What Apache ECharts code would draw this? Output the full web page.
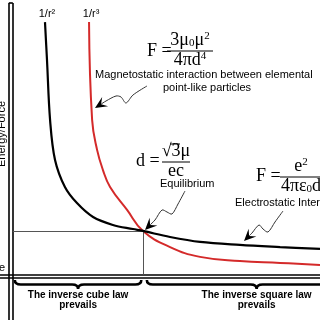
<!DOCTYPE html>
<html><head><meta charset="utf-8">
<script src="https://cdn.jsdelivr.net/npm/echarts@6/dist/echarts.min.js"></script>
<style>html,body{margin:0;padding:0;background:#fff}#c{width:320px;height:320px}</style>
</head><body><div id="c"></div>
<script>
// ---- data (distance, energy/force) ----
const inverseSquareX = [1.105, 1.17, 1.27, 1.43, 1.75, 2.14, 2.66, 3.30, 3.95, 4.275, 5.15, 6.12, 7.41, 8.71, 10.0];
const inverseSquareY = [9.30, 7.91, 5.71, 4.25, 3.26, 2.67, 2.16, 1.87, 1.72, 1.65, 1.43, 1.25, 1.14, 1.06, 0.99];
const inverseCubeX = [2.53, 2.63, 2.79, 2.98, 3.21, 3.76, 4.275, 5.15, 6.12, 7.41, 8.71, 10.0];
const inverseCubeY = [9.30, 5.71, 4.62, 3.88, 3.26, 2.42, 1.65, 1.06, 0.70, 0.55, 0.48, 0.40];
const equilibrium = [4.275, 1.65];
const curveLabels = ['1/r\u00b2', '1/r\u00b3'];
const lawRanges = [[0.13, 4.22], [4.40, 11.5]];
const lawLabels = ['The inverse cube law\nprevails', 'The inverse square law\nprevails'];
const axisName = 'Energy/Force';
const xName = 'Distance';

const SERIF = '"Liberation Serif","Times New Roman",serif';
const SANS = '"Liberation Sans",Arial,sans-serif';
const chart = echarts.init(document.getElementById('c'));

const zip = (xs, ys) => xs.map((x, i) => [x, ys[i]]);
const R = {
  n: {fontFamily: SERIF, fontSize: 18, lineHeight: 18, fill: '#000'},
  sub: {fontFamily: SERIF, fontSize: 11, lineHeight: 10, verticalAlign: 'bottom', fill: '#000'},
  sup: {fontFamily: SERIF, fontSize: 11, lineHeight: 10, verticalAlign: 'top', fill: '#000'}
};
function txt(x, y, text, extra) {
  return {type: 'text', x: x, y: y, z: 10, style: Object.assign({text: text, fill: '#000', font: '11px ' + SANS, align: 'left', verticalAlign: 'middle'}, extra || {})};
}
function fraction(cx, cy, num, den, x1, x2) {
  return [
    {type: 'text', x: cx, y: cy - 2, z: 10, style: {text: num, rich: R, align: 'center', verticalAlign: 'bottom'}},
    {type: 'line', z: 10, shape: {x1: x1, y1: cy, x2: x2, y2: cy}, style: {stroke: '#000', lineWidth: 1}},
    {type: 'text', x: cx, y: cy, z: 10, style: {text: den, rich: R, align: 'center', verticalAlign: 'top'}}
  ];
}
function arrow(pts) {
  const n = pts.length, tip = pts[n - 1], prev = pts[n - 2];
  const dx = tip[0] - prev[0], dy = tip[1] - prev[1], L = Math.hypot(dx, dy);
  const ux = dx / L, uy = dy / L, px = -uy, py = ux;
  const len = 12, w = 5.5;
  const bx = tip[0] - ux * len, by = tip[1] - uy * len;
  const nx = tip[0] - ux * len * 0.6, ny = tip[1] - uy * len * 0.6;
  return [
    {type: 'polyline', z: 10, shape: {points: pts.slice(0, n - 1).concat([[nx, ny]]), smooth: 0.3}, style: {stroke: '#333', lineWidth: 1, fill: null}},
    {type: 'polygon', z: 10, shape: {points: [tip, [bx + px * w, by + py * w], [nx, ny], [bx - px * w, by - py * w]]}, style: {fill: '#000'}}
  ];
}

const graphics = [].concat(
  [{type: 'text', x: 1.5, y: 134, rotation: Math.PI / 2, z: 10, style: {text: axisName, fill: '#000', font: '11px ' + SANS, align: 'center', verticalAlign: 'middle'}}],
  [txt(5, 268, xName, {align: 'right'})],
  // magnetostatic formula
  [txt(147, 51, 'F =', {font: '18px ' + SERIF})],
  fraction(190, 51, '{n|3\u03bc}{sub|0}{n|\u03bc}{sup|2}', '{n|4\u03c0d}{sup|4}', 167, 213),
  [txt(95, 75, 'Magnetostatic interaction between elemental')],
  [txt(163, 88, 'point-like particles')],
  arrow([[147, 86], [133, 95], [126, 103], [121, 97], [116, 96], [106, 101], [95, 108]]),
  // equilibrium
  [txt(136, 161, 'd =', {font: '18px ' + SERIF})],
  fraction(176, 162, '{n|\u221a3\u03bc}', '{n|ec}', 162, 190),
  [{type: 'line', z: 10, shape: {x1: 170, y1: 144, x2: 180, y2: 144}, style: {stroke: '#000', lineWidth: 1}}],
  [txt(160, 184, 'Equilibrium')],
  arrow([[185, 191], [178, 204], [172, 214], [167, 212], [162, 210], [155, 220], [145, 230]]),
  // electrostatic formula
  [txt(256, 176, 'F =', {font: '18px ' + SERIF})],
  fraction(301, 177, '{n|e}{sup|2}', '{n|4\u03c0\u03b5}{sub|0}{n|d}', 280, 324),
  [txt(235, 203, 'Electrostatic Interaction')],
  arrow([[283, 211], [275, 222], [268, 232], [263, 229], [259, 225], [252, 233], [244, 241]])
);

const thin = {color: '#555', width: 1, type: 'solid'};
const axisLS = {color: '#000', width: 1.6, type: 'solid'};

chart.setOption({
  animation: false,
  grid: {left: 0, right: 0, top: 3, bottom: 0},
  xAxis: {type: 'value', min: -0.35, max: 10, show: false},
  yAxis: {type: 'value', min: -1.612, max: 10, show: false},
  graphic: graphics,
  series: [
    {
      type: 'line', data: [], silent: true,
      markLine: {
        silent: true, symbol: ['none', 'none'], label: {show: false}, animation: false,
        data: [
          {xAxis: -0.065, lineStyle: axisLS},
          {xAxis: 0.065, lineStyle: axisLS},
          {yAxis: 0.055, lineStyle: axisLS},
          {yAxis: -0.055, lineStyle: axisLS},
          [{coord: [-0.065, 10], lineStyle: axisLS}, {coord: [0.065, 10]}],
          [{coord: [0.065, equilibrium[1]], lineStyle: thin}, {coord: [equilibrium[0], equilibrium[1]]}],
          [{coord: [equilibrium[0], equilibrium[1]], lineStyle: thin}, {coord: [equilibrium[0], 0.055]}]
        ]
      }
    },
    {
      type: 'line', data: zip(inverseSquareX, inverseSquareY), smooth: 0.35, showSymbol: false, silent: true,
      lineStyle: {color: '#000', width: 2.2}, z: 5,
      markPoint: {silent: true, data: [{coord: [inverseSquareX[0], inverseSquareY[0]], symbol: 'circle', symbolSize: 0,
        label: {show: true, formatter: curveLabels[0], position: 'top', distance: 3, offset: [2, 0], color: '#000', fontSize: 11, fontFamily: SANS}}]}
    },
    {
      type: 'line', data: zip(inverseCubeX, inverseCubeY), smooth: 0.45, showSymbol: false, silent: true,
      lineStyle: {color: '#d42a2a', width: 2}, z: 4,
      markPoint: {silent: true, data: [{coord: [inverseCubeX[0], inverseCubeY[0]], symbol: 'circle', symbolSize: 0,
        label: {show: true, formatter: curveLabels[1], position: 'top', distance: 3, offset: [2, 0], color: '#000', fontSize: 11, fontFamily: SANS}}]}
    },
    {
      type: 'custom', clip: false, silent: true,
      data: lawRanges.map((r, i) => [r[0], r[1], i]),
      encode: {x: [0, 1]},
      renderItem: function (params, api) {
        const a = api.coord([api.value(0), 0]);
        const b = api.coord([api.value(1), 0]);
        const xa = a[0], xb = b[0], xm = (xa + xb) / 2;
        const y0 = a[1] + 4, y1 = a[1] + 8.5, y2 = a[1] + 13, r = 6;
        const d = 'M' + xa + ',' + y0 + ' Q' + xa + ',' + y1 + ' ' + (xa + r) + ',' + y1 +
          ' L' + (xm - r) + ',' + y1 + ' Q' + xm + ',' + y1 + ' ' + xm + ',' + y2 +
          ' Q' + xm + ',' + y1 + ' ' + (xm + r) + ',' + y1 +
          ' L' + (xb - r) + ',' + y1 + ' Q' + xb + ',' + y1 + ' ' + xb + ',' + y0;
        return {
          type: 'group', children: [
            {type: 'path', shape: {pathData: d}, style: {stroke: '#000', fill: null, lineWidth: 2.6}},
            {type: 'text', x: xm, y: a[1] + 15, style: {text: lawLabels[api.value(2)], fill: '#000', font: 'bold 10px ' + SANS, lineHeight: 9.5, align: 'center', verticalAlign: 'top'}}
          ]
        };
      }
    }
  ]
});
</script></body></html>
